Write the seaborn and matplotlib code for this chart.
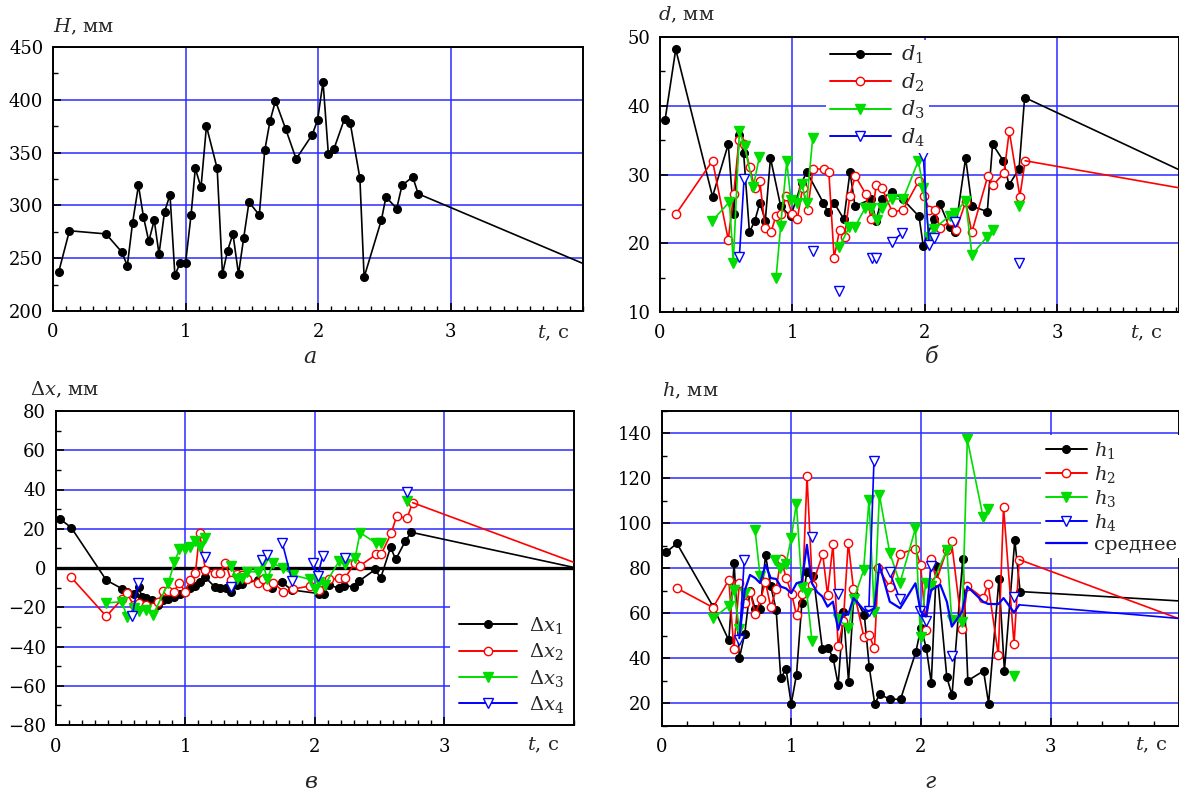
import numpy as np
import pandas as pd
import matplotlib
matplotlib.use('Agg')
import matplotlib.pyplot as plt
import seaborn as sns
from matplotlib.lines import Line2D
from matplotlib.ticker import MultipleLocator

nan = np.nan

# ---------------- panel a: H ----------------
H_t = [0.043, 0.124, 0.40, 0.518, 0.561, 0.60, 0.645, 0.683, 0.723, 0.764, 0.80, 0.842,
       0.883, 0.92, 0.958, 1.0, 1.042, 1.074, 1.117, 1.158, 1.239, 1.279, 1.317, 1.358,
       1.40, 1.439, 1.479, 1.557, 1.598, 1.638, 1.679, 1.757, 1.835, 1.957, 1.997, 2.038,
       2.078, 2.119, 2.20, 2.243, 2.316, 2.348, 2.478, 2.513, 2.594, 2.634, 2.715, 2.756]
H_v = [237, 276, 273, 256, 243, 283, 319, 289, 266, 286, 254, 294,
       310, 234, 245, 245, 291, 335, 317, 375, 335, 235, 257, 273,
       235, 269, 303, 291, 352, 380, 399, 372, 344, 367, 381, 417,
       349, 353, 382, 378, 326, 232, 286, 308, 297, 319, 327, 311]
H_tail_t = [2.756, 4.0]
H_tail_v = [311, 245]

# ---------------- panel b: d ----------------
d1_t = [0.038, 0.119, 0.397, 0.516, 0.556, 0.60, 0.632, 0.676, 0.717, 0.755, 0.796, 0.835,
        0.912, 0.988, 1.071, 1.109, 1.234, 1.272, 1.315, 1.39, 1.436, 1.474, 1.595, 1.633,
        1.676, 1.756, 1.835, 1.958, 1.99, 2.07, 2.116, 2.19, 2.23, 2.31, 2.358, 2.474,
        2.514, 2.595, 2.638, 2.714, 2.756]
d1_v = [37.9, 48.2, 26.8, 34.4, 24.2, 35.7, 33.1, 21.6, 23.3, 25.9, 23.3, 32.4,
        25.4, 23.9, 28.8, 30.4, 25.9, 24.5, 25.9, 23.5, 30.4, 25.4, 26.4, 23.3,
        26.5, 27.5, 26.4, 23.9, 19.6, 23.6, 25.7, 22.3, 21.6, 32.4, 25.4, 24.6,
        34.4, 32.0, 28.5, 30.8, 41.2]
d1_tail_t = [2.756, 4.0]
d1_tail_v = [41.2, 30.0]

d2_t = [0.119, 0.397, 0.516, 0.557, 0.597, 0.635, 0.678, 0.716, 0.754, 0.795, 0.838, 0.876,
        0.914, 0.954, 1.0, 1.038, 1.078, 1.116, 1.157, 1.238, 1.276, 1.316, 1.357, 1.395,
        1.435, 1.476, 1.554, 1.597, 1.635, 1.676, 1.757, 1.838, 1.957, 1.995, 2.035, 2.076,
        2.116, 2.197, 2.238, 2.31, 2.357, 2.478, 2.519, 2.6, 2.64, 2.72, 2.76]
d2_v = [24.2, 32.0, 20.5, 27.2, 35.0, 34.4, 31.1, 28.0, 29.1, 22.2, 21.6, 23.9,
        24.3, 26.9, 24.2, 23.5, 28.1, 24.9, 30.8, 30.8, 30.4, 17.9, 21.9, 20.9,
        26.9, 29.8, 27.2, 23.5, 28.5, 28.1, 24.5, 24.9, 29.1, 26.9, 24.9, 24.9,
        22.2, 23.2, 21.9, 26.0, 21.6, 29.8, 28.5, 30.2, 36.3, 26.8, 32.0]
d2_tail_t = [2.76, 4.0]
d2_tail_v = [32.0, 27.8]

d3_t = [0.391, 0.525, 0.554, 0.60, 0.64, 0.705, 0.751, nan, 0.877, 0.912, 0.958, 0.99,
        1.033, 1.071, 1.109, 1.154, nan, 1.355, 1.43, 1.474, 1.55, 1.597, 1.637, 1.676,
        1.756, 1.837, 1.953, 1.99, 2.034, 2.07, 2.19, 2.23, 2.31, 2.358, 2.469, 2.514,
        nan, 2.714]
d3_v = [23.2, 26.0, 17.2, 36.3, 34.1, 28.2, 32.6, nan, 14.9, 22.5, 31.9, 26.3,
        25.9, 28.6, 25.8, 35.3, nan, 19.5, 22.3, 22.4, 25.1, 25.2, 23.4, 25.2,
        26.5, 26.4, 32.0, 28.0, 20.9, 22.1, 24.0, 24.4, 26.2, 18.3, 20.9, 21.9,
        nan, 25.4]

d4_t = [0.60, 0.635, nan, 1.154, nan, 1.355, nan, 1.60, nan, 1.633, nan, 1.751, 1.832,
        nan, 1.99, 2.034, 2.07, nan, 2.23, nan, 2.714]
d4_v = [18.0, 29.3, nan, 18.9, nan, 13.0, nan, 17.9, nan, 17.9, nan, 20.2, 21.5,
        nan, 32.7, 19.8, 20.8, nan, 23.1, nan, 17.2]

# ---------------- panel c: dx ----------------
x1_t = [0.036, 0.119, 0.39, 0.51, 0.55, 0.60, 0.64, 0.665, 0.70, 0.74, 0.79, 0.83, 0.87,
        0.91, 0.96, 1.0, 1.04, 1.078, 1.115, 1.155, 1.232, 1.27, 1.312, 1.352, 1.40, 1.44,
        1.56, 1.63, 1.667, 1.745, 1.822, 2.03, 2.068, 2.107, 2.185, 2.222, 2.305, 2.345,
        2.468, 2.508, 2.585, 2.625, 2.70, 2.745]
x1_v = [24.8, 20.6, -6.2, -10.5, -12.1, -13.3, -9.9, -14.6, -15.2, -16.5, -18.8, -16.3, -15.6,
        -14.8, -13.0, -12.0, -10.4, -9.2, -7.3, -4.8, -9.9, -10.1, -10.1, -12.1, -8.7, -8.3,
        -6.1, -8.3, -10.4, -7.2, -11.2, -13.0, -13.3, -8.5, -10.3, -9.0, -9.6, -6.5,
        -0.7, -5.3, 10.5, 4.4, 13.8, 18.2]
x1_tail_t = [2.745, 4.0]
x1_tail_v = [18.2, 0.3]

x2_t = [0.119, 0.39, 0.51, 0.55, 0.60, 0.64, 0.70, 0.75, 0.79, 0.83, 0.87, 0.91, 0.955,
        1.0, 1.04, 1.078, 1.11, 1.155, 1.232, 1.27, 1.31, 1.352, 1.40, 1.44, 1.48, 1.56,
        1.60, 1.633, 1.678, 1.758, 1.835, 1.96, 2.034, 2.11, 2.19, 2.23, 2.31, 2.35, 2.475,
        2.515, 2.59, 2.632, 2.712, 2.755]
x2_v = [-4.8, -24.6, -15.9, -12.9, -18.9, -18.0, -18.9, -19.7, -17.2, -11.5, -11.5, -12.1, -7.8,
        -12.1, -6.1, -2.7, 17.8, -1.0, -2.4, -2.4, 2.7, -6.1, -3.2, -3.6, -5.4, -7.5,
        -5.8, -9.2, -7.5, -12.1, -10.7, -9.2, -11.2, -5.8, -5.3, -5.3, 2.4, 1.2, 7.0,
        7.3, 17.7, 26.5, 25.3, 33.3]
x2_tail_t = [2.755, 4.0]
x2_tail_v = [33.3, 2.9]

x3_t = [0.39, 0.51, 0.55, 0.60, 0.64, 0.70, 0.75, 0.87, 0.915, 0.955, 1.0, 1.04, 1.078,
        1.115, 1.155, nan, 1.355, 1.40, 1.44, 1.48, 1.56, 1.60, 1.633, 1.678, 1.758, 1.835,
        1.96, 2.0, 2.034, 2.075, 2.19, 2.23, 2.31, 2.35, 2.475, 2.515, nan, 2.712]
x3_v = [-17.8, -17.2, -24.8, -20.6, -21.9, -21.4, -23.9, -7.6, 2.9, 9.5, 9.5, 10.9, 13.9,
        10.9, 15.5, nan, 1.0, -5.8, -5.0, -1.9, -1.9, 2.4, -5.8, 2.4, -0.2, -3.6,
        -5.8, -10.9, -7.0, -8.7, 3.7, 2.0, 4.9, 18.0, 12.6, 12.6, nan, 34.3]

x4_t = [0.59, 0.635, nan, 1.15, nan, 1.355, nan, 1.595, 1.628, nan, 1.75, 1.825, nan,
        1.985, 2.022, 2.06, nan, 2.23, nan, 2.712]
x4_v = [-24.6, -7.8, nan, 5.5, nan, -9.7, nan, 3.9, 6.8, nan, 12.6, -6.8, nan,
        2.4, -3.9, 5.9, nan, 4.9, nan, 38.9]

# ---------------- panel d: h ----------------
h1_t = [0.036, 0.119, 0.398, 0.519, 0.56, 0.6, 0.642, 0.682, 0.722, 0.762, 0.802, 0.842,
        0.884, 0.92, 0.96, 1.0, 1.041, 1.082, 1.121, 1.17, 1.24, 1.282, 1.323, 1.362,
        1.403, 1.442, 1.483, 1.564, 1.602, 1.644, 1.682, 1.762, 1.843, 1.961, 2.0, 2.041,
        2.08, 2.12, 2.2, 2.24, 2.323, 2.362, 2.483, 2.522, 2.602, 2.644, 2.724, 2.765]
h1_v = [87.2, 91.1, 63.0, 48.0, 82.2, 40.0, 51.0, 70.0, 62.0, 62.0, 86.0, 72.2,
        61.5, 31.1, 35.4, 19.7, 32.8, 64.4, 78.4, 76.8, 44.3, 44.8, 40.2, 28.3,
        60.8, 29.6, 68.2, 59.2, 36.0, 19.7, 24.0, 21.8, 21.8, 42.8, 53.5, 44.8,
        29.1, 81.1, 31.6, 23.6, 84.4, 30.1, 34.4, 19.9, 75.3, 34.5, 92.7, 69.7]
h1_tail_t = [2.765, 4.0]
h1_tail_v = [69.7, 65.5]

h2_t = [0.119, 0.398, 0.519, 0.558, 0.6, 0.641, 0.682, 0.724, 0.765, 0.801, 0.843, 0.884,
        0.92, 0.961, 1.003, 1.041, 1.086, 1.122, 1.163, 1.243, 1.28, 1.322, 1.362, 1.402,
        1.44, 1.48, 1.56, 1.6, 1.642, 1.672, 1.76, 1.84, 1.958, 1.998, 2.04, 2.08,
        2.12, 2.2, 2.236, 2.318, 2.358, 2.48, 2.518, 2.597, 2.637, 2.718, 2.758]
h2_v = [71.2, 62.6, 74.9, 44.0, 73.4, 64.8, 69.7, 59.8, 66.3, 74.0, 62.7, 70.7,
        84.4, 75.9, 68.7, 59.2, 68.7, 120.9, 72.4, 86.5, 68.3, 90.7, 45.3, 56.5,
        91.5, 70.9, 49.6, 50.5, 44.4, 80.0, 71.7, 86.5, 88.8, 81.3, 52.8, 84.0,
        74.6, 88.3, 92.0, 52.9, 72.2, 66.7, 73.0, 41.5, 107.5, 46.3, 83.9]
h2_tail_t = [2.758, 4.0]
h2_tail_v = [83.9, 57.4]

h3_t = [0.4, 0.52, 0.56, 0.6, 0.641, nan, 0.722, 0.76, nan, 0.878, 0.917, 0.96, 1.0,
        1.04, 1.083, 1.12, 1.16, nan, 1.363, 1.441, 1.482, 1.558, 1.6, 1.64, 1.68,
        1.76, 1.838, 1.958, 1.997, 2.036, 2.08, 2.2, 2.238, 2.318, 2.358, 2.48, 2.518,
        nan, 2.718]
h3_v = [57.9, 63.4, 70.6, 53.0, 69.0, nan, 96.9, 76.5, nan, 83.8, 80.3, 82.0, 93.5,
        108.8, 71.8, 68.9, 47.9, nan, 57.5, 53.3, 66.3, 79.1, 110.6, 60.8, 112.7,
        86.9, 73.4, 97.8, 49.4, 73.7, 72.2, 88.3, 57.1, 56.2, 137.4, 102.7, 106.3,
        nan, 32.2]

h4_t = [0.6, 0.638, nan, 1.16, nan, 1.361, nan, 1.598, 1.638, nan, 1.76, 1.838, nan,
        1.996, 2.036, 2.078, nan, 2.238, nan, 2.718]
h4_v = [48.2, 83.8, nan, 94.0, nan, 68.6, nan, 61.0, 127.6, nan, 78.2, 66.2, nan,
        61.0, 56.8, 81.2, nan, 41.2, nan, 67.2]

hm_t = [0.6, 0.641, 0.682, 0.722, 0.76, 0.802, 0.842, 0.884, 0.92, 0.96, 1.0, 1.041,
        1.082, 1.121, 1.16, 1.2, 1.24, 1.28, 1.322, 1.362, 1.402, 1.44, 1.48, 1.56,
        1.6, 1.642, 1.68, 1.76, 1.84, 1.958, 1.998, 2.038, 2.08, 2.15, 2.2, 2.238,
        2.318, 2.358, 2.48, 2.518, 2.597, 2.637, 2.718, 2.758]
hm_v = [49.0, 70.0, 77.1, 75.7, 73.5, 81.6, 75.7, 75.3, 71.9, 71.1, 69.0, 73.4,
        74.1, 90.5, 73.4, 69.5, 67.5, 63.0, 65.2, 52.7, 60.1, 59.4, 66.8, 61.6,
        61.0, 62.3, 81.9, 65.2, 62.3, 73.4, 60.8, 58.6, 70.4, 72.7, 65.2, 54.1,
        60.8, 71.9, 65.2, 64.2, 64.1, 66.8, 60.4, 63.8]
hm_tail_t = [2.758, 4.0]
hm_tail_v = [63.8, 57.7]

x_ticks = [0, 1, 2, 3]
x_ticklabels = ['0', '1', '2', '3']

# ---------------- styling ----------------
sns.set_theme(style='white')
plt.rcParams['font.family'] = ['DejaVu Serif']
plt.rcParams['mathtext.fontset'] = 'dejavuserif'
plt.rcParams['axes.unicode_minus'] = True

BLACK = '#000000'
RED = '#ff0000'
GREEN = '#00dd00'
BLUE = '#0000ff'
GRID = '#2b2bff'

STY = {
    'k': dict(c=BLACK, m='o', mfc=BLACK, ms=5.5),
    'r': dict(c=RED, m='o', mfc='white', ms=6),
    'g': dict(c=GREEN, m='v', mfc=GREEN, ms=7),
    'b': dict(c=BLUE, m='v', mfc='white', ms=7),
}

W, HH = 1179, 793
fig = plt.figure(figsize=(W / 100, HH / 100), dpi=100)


def make_axes(left, top, right, bottom):
    return fig.add_axes([left / W, 1 - bottom / HH, (right - left) / W, (bottom - top) / HH])


def draw(ax, t, v, key):
    st = STY[key]
    df = pd.DataFrame({'t': t, 'v': v})
    df['seg'] = df['v'].isna().cumsum()
    df = df.dropna()
    sns.lineplot(data=df, x='t', y='v', units='seg', estimator=None, sort=False, ax=ax,
                 color=st['c'], marker=st['m'], markersize=st['ms'],
                 markerfacecolor=st['mfc'], markeredgecolor=st['c'], markeredgewidth=1.0,
                 linewidth=1.2, legend=False, zorder=3)


def tail(ax, t, v, color):
    sns.lineplot(x=t, y=v, ax=ax, color=color, linewidth=1.2, sort=False,
                 estimator=None, legend=False, zorder=3)


def style_axes(ax, xmax, ylo, yhi, ymaj, ymin, xminor):
    ax.set_xlim(0, xmax)
    ax.set_ylim(ylo, yhi)
    ax.set_xticks(x_ticks)
    ax.set_xticklabels(x_ticklabels)
    ax.yaxis.set_major_locator(MultipleLocator(ymaj))
    ax.yaxis.set_minor_locator(MultipleLocator(ymin))
    ax.xaxis.set_minor_locator(MultipleLocator(xminor))
    ax.set_axisbelow(True)
    ax.grid(True, which='major', color=GRID, linewidth=1.1)
    ax.tick_params(which='both', direction='in', top=False, right=False,
                   left=True, bottom=True, colors='black', labelsize=13)
    ax.tick_params(which='major', length=6, width=1.2)
    ax.tick_params(axis='x', which='major', pad=9)
    ax.tick_params(axis='y', which='major', pad=7)
    ax.tick_params(which='minor', length=3.5, width=1.0)
    for s in ax.spines.values():
        s.set_visible(True)
        s.set_color('black')
        s.set_linewidth(1.4)
    ax.set_xlabel('')
    ax.set_ylabel('')


def legend_handle(key):
    st = STY[key]
    return Line2D([], [], color=st['c'], marker=st['m'], markersize=st['ms'],
                  markerfacecolor=st['mfc'], markeredgecolor=st['c'], linewidth=1.4)


def ftext(x, y, s, **kw):
    fig.text(x / W, 1 - y / HH, s, **kw)


def white_legend(leg):
    fr = leg.get_frame()
    fr.set_facecolor('white')
    fr.set_edgecolor('none')
    fr.set_alpha(1)


# ---------------- panel a ----------------
axa = make_axes(53, 47, 583, 311)
draw(axa, H_t, H_v, 'k')
tail(axa, H_tail_t, H_tail_v, BLACK)
style_axes(axa, 4.0, 200, 450, 50, 25, 0.1)
ftext(53, 27, r'$H$, мм', fontsize=14, va='center', ha='left')
ftext(537, 333, r'$t$, с', fontsize=14, va='center', ha='left')
ftext(310, 357, 'а', fontsize=16, style='italic', va='center', ha='center')

# ---------------- panel b ----------------
axb = make_axes(660, 37, 1179, 312)
draw(axb, d1_t, d1_v, 'k')
draw(axb, d2_t, d2_v, 'r')
draw(axb, d3_t, d3_v, 'g')
draw(axb, d4_t, d4_v, 'b')
tail(axb, d1_tail_t, d1_tail_v, BLACK)
tail(axb, d2_tail_t, d2_tail_v, RED)
style_axes(axb, 519 / 132.3, 10, 50, 10, 5, 0.1)
ftext(658, 15, r'$d$, мм', fontsize=14, va='center', ha='left')
ftext(1130, 333, r'$t$, с', fontsize=14, va='center', ha='left')
ftext(932, 357, 'б', fontsize=16, style='italic', va='center', ha='center')
lb = axb.legend([legend_handle(k) for k in 'krgb'],
                [r'$d_1$', r'$d_2$', r'$d_3$', r'$d_4$'],
                loc='upper left', bbox_to_anchor=(826 / W, 1 - 40 / HH),
                bbox_transform=fig.transFigure, frameon=True, fontsize=15,
                handlelength=2.9, handletextpad=0.5, labelspacing=0.25,
                borderpad=0.2, borderaxespad=0, fancybox=False)
white_legend(lb)

# ---------------- panel c ----------------
axc = make_axes(55.8, 411, 573.8, 725)
axc.axhline(0, color='black', linewidth=2.4, zorder=2)
draw(axc, x1_t, x1_v, 'k')
draw(axc, x2_t, x2_v, 'r')
draw(axc, x3_t, x3_v, 'g')
draw(axc, x4_t, x4_v, 'b')
tail(axc, x1_tail_t, x1_tail_v, BLACK)
tail(axc, x2_tail_t, x2_tail_v, RED)
style_axes(axc, 4.0, -80, 80, 20, 10, 0.1)
ftext(30, 390, r'$\Delta x$, мм', fontsize=14, va='center', ha='left')
ftext(527, 745, r'$t$, с', fontsize=14, va='center', ha='left')
ftext(311, 782, 'в', fontsize=16, style='italic', va='center', ha='center')
lc = axc.legend([legend_handle(k) for k in 'krgb'],
                [r'$\Delta x_1$', r'$\Delta x_2$', r'$\Delta x_3$', r'$\Delta x_4$'],
                loc='lower right', bbox_to_anchor=(573 / W, 1 - 724 / HH),
                bbox_transform=fig.transFigure, frameon=True, fontsize=14,
                handlelength=3.0, handletextpad=0.6, labelspacing=0.28,
                borderpad=0.45, borderaxespad=0, fancybox=False)
white_legend(lc)

# ---------------- panel d ----------------
axd = make_axes(661.5, 411, 1179, 725.8)
draw(axd, h1_t, h1_v, 'k')
draw(axd, h2_t, h2_v, 'r')
draw(axd, h3_t, h3_v, 'g')
draw(axd, h4_t, h4_v, 'b')
sns.lineplot(x=hm_t, y=hm_v, ax=axd, color=BLUE, linewidth=1.6, sort=False,
             estimator=None, legend=False, zorder=3)
tail(axd, h1_tail_t, h1_tail_v, BLACK)
tail(axd, h2_tail_t, h2_tail_v, RED)
tail(axd, hm_tail_t, hm_tail_v, BLUE)
style_axes(axd, 517.5 / 129.7, 10, 150, 20, 10, 0.2)
ftext(662, 391, r'$h$, мм', fontsize=14, va='center', ha='left')
ftext(1135, 745, r'$t$, с', fontsize=14, va='center', ha='left')
ftext(930, 782, 'г', fontsize=16, style='italic', va='center', ha='center')
hd = [legend_handle(k) for k in 'krgb'] + [Line2D([], [], color=BLUE, linewidth=1.6)]
ld = axd.legend(hd, [r'$h_1$', r'$h_2$', r'$h_3$', r'$h_4$', 'среднее'],
                loc='upper left', bbox_to_anchor=(1041 / W, 1 - 435 / HH),
                bbox_transform=fig.transFigure, frameon=True, fontsize=14,
                handlelength=2.1, handletextpad=0.4, labelspacing=0.15,
                borderpad=0.25, borderaxespad=0, fancybox=False)
white_legend(ld)

fig.savefig('out.png', dpi=100)
